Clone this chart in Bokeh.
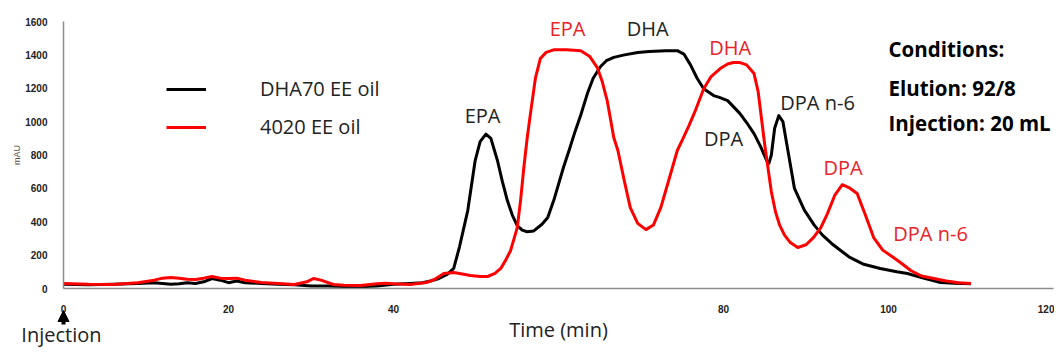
from bokeh.plotting import figure
from bokeh.models import Range1d, FixedTicker, Label, Legend, LegendItem, Arrow, NormalHead
from bokeh.embed import file_html
from bokeh.resources import INLINE

# ---- data ----
black_t = [0, 3, 6, 9, 11, 12, 13, 14, 15, 16, 17, 18, 19, 20, 21, 22, 24, 26, 28, 30, 32, 34, 36, 38, 40,
           42, 43.5, 44.5, 45.5, 46.5, 47.3, 48, 49, 49.9, 50.5, 51.2, 51.8, 52.6, 53.2, 53.8, 54.4, 55,
           55.6, 56.2, 57, 58, 58.7, 59.5, 60.6, 61.3, 62, 62.7, 63.5, 64.2, 65.1, 65.8, 66.7, 68, 69.6,
           71, 73, 74.4, 75.2, 76, 76.8, 77.6, 78.8, 79.5, 80.5, 81.2, 82, 83, 83.7, 84.5, 85.2, 85.5,
           85.8, 86.2, 86.7, 87.2, 87.9, 88.6, 89.8, 91, 92, 93.1, 94.2, 95.2, 97, 99, 101, 102.3, 104,
           106.3, 108, 110]
black_v = [25, 22, 25, 30, 35, 30, 25, 28, 35, 30, 40, 60, 50, 35, 45, 35, 30, 25, 22, 15, 15, 12, 10, 15, 25,
           30, 35, 45, 60, 85, 120, 250, 467, 767, 880, 925, 900, 767, 640, 527, 440, 377,
           350, 340, 345, 385, 425, 540, 725, 830, 940, 1040, 1168, 1260, 1330, 1365, 1385, 1400, 1414,
           1420, 1425, 1425, 1405, 1340, 1260, 1197, 1156, 1145, 1126, 1090, 1048, 980, 928, 850, 770, 750,
           800, 960, 1036, 1000, 800, 600, 470, 380, 320, 270, 228, 190, 145, 120, 100, 90, 65,
           36, 32, 28]

red_t = [0, 3, 6, 9, 11, 12, 13, 14, 15, 16, 17, 18, 19, 20, 21, 22, 24, 26, 28, 29.5, 30.3, 31.2, 32.7,
         34, 36, 38, 39, 40, 42, 44, 45, 46.1, 47.3, 48.5, 49.3, 50.5, 51.4, 52.3, 53, 53.6, 54.2, 55,
         55.4, 55.8, 56.2, 56.6, 57.2, 57.8, 58.5, 59.4, 61, 62.7, 63.8, 64.7, 65.3, 65.9, 66.7, 67.2,
         68, 68.7, 69.6, 70.6, 71.5, 72.4, 73.6, 74.4, 75.1, 75.8, 76.5, 77.6, 78.5, 79.6, 80.5, 81.2, 82,
         82.8, 83.7, 84.2, 84.6, 85, 85.4, 85.8, 86.3, 86.8, 87.4, 88.1, 89, 90, 90.9, 91.8, 92.6, 93.5,
         94.4, 95.2, 96.2, 97.2, 98.2, 99.3, 100.6, 101.6, 102.7, 104, 105.5, 107, 108.5, 110]
red_v = [30, 25, 24, 35, 50, 62, 66, 62, 55, 54, 62, 72, 62, 60, 62, 50, 36, 30, 24, 40, 60, 50, 24,
         20, 18, 28, 32, 28, 24, 36, 55, 90, 96, 85, 78, 72, 72, 90, 120, 170, 228, 365,
         527, 725, 900, 1048, 1260, 1378, 1415, 1430, 1430, 1425, 1390, 1324, 1240, 1126, 905, 827,
         640, 485, 390, 353, 380, 485, 689, 827, 900, 975, 1055, 1197, 1270, 1318, 1345, 1354, 1354,
         1340, 1288, 1180, 1020, 860, 720, 580, 460, 380, 320, 275, 246, 262, 305, 365, 449, 560,
         622, 605, 569, 440, 305, 230, 186, 150, 108, 75, 60, 45, 35, 30]

x_ticks = [0, 20, 40, 80, 100, 120]
y_ticks = [0, 200, 400, 600, 800, 1000, 1200, 1400, 1600]
series_names = ["DHA70 EE oil", "4020 EE oil"]

# peak labels: (text, colour, t, v)
peak_labels = [
    ("EPA", "#222222", 50.8, 1036),
    ("EPA", "#e8232a", 61.1, 1557),
    ("DHA", "#222222", 70.8, 1557),
    ("DHA", "#e8232a", 80.8, 1444),
    ("DPA", "#222222", 80.0, 898),
    ("DPA n-6", "#222222", 91.4, 1114),
    ("DPA", "#e8232a", 94.5, 725),
    ("DPA n-6", "#e8232a", 105.1, 329),
]
conditions = ["Conditions:", "Elution: 92/8", "Injection: 20 mL"]
cond_v = [1438, 1204, 989]

FONT = "Open Sans"
W, H = 1054, 348

# plot frame covers the whole figure; axes are pinned at 0
PX_T = 8.25        # px per minute
PX_V = 267 / 1600  # px per mAU
x_lo = -63 / PX_T
x_hi = x_lo + W / PX_T
y_hi = 1600 + 21 / PX_V
y_lo = y_hi - H / PX_V

p = figure(width=W, height=H, output_backend="svg", toolbar_location=None,
           x_range=Range1d(x_lo, x_hi), y_range=Range1d(y_lo, y_hi),
           min_border=0, min_border_left=0, min_border_right=0, min_border_top=0, min_border_bottom=0)
p.outline_line_color = None
p.grid.grid_line_color = None
p.background_fill_color = "white"
p.border_fill_color = "white"

r_black = p.line(black_t, black_v, line_color="black", line_width=3, line_join="round")
r_red = p.line(red_t, red_v, line_color="#ff0000", line_width=3, line_join="round")

for ax in (p.xaxis[0], p.yaxis[0]):
    ax.fixed_location = 0
    ax.axis_line_color = "#8c8c8c"
    ax.axis_line_width = 1.5
    ax.major_tick_line_color = None
    ax.minor_tick_line_color = None
    ax.major_label_text_font = "Liberation Sans"
    ax.major_label_text_font_style = "bold"
    ax.major_label_text_font_size = "10px"
    ax.major_label_text_color = "#222222"
    ax.major_label_standoff = 10

p.xaxis.bounds = (0, 120)
p.yaxis.bounds = (0, 1600)
p.xaxis.ticker = FixedTicker(ticks=x_ticks)
p.yaxis.ticker = FixedTicker(ticks=y_ticks)

p.xaxis.axis_label = "Time (min)"
p.xaxis.axis_label_text_font = FONT
p.xaxis.axis_label_text_font_style = "normal"
p.xaxis.axis_label_text_font_size = "20px"
p.xaxis.axis_label_text_color = "#222222"
p.xaxis.axis_label_standoff = 0

p.yaxis.axis_label = "mAU"
p.yaxis.axis_label_text_font = "Liberation Sans"
p.yaxis.axis_label_text_font_style = "normal"
p.yaxis.axis_label_text_font_size = "9px"
p.yaxis.axis_label_text_color = "#5a4a42"
p.yaxis.axis_label_standoff = 0

legend = Legend(items=[LegendItem(label=series_names[0], renderers=[r_black]),
                       LegendItem(label=series_names[1], renderers=[r_red])],
                location=(166, H - 140), orientation="vertical",
                glyph_width=40, glyph_height=20, label_height=20, spacing=11,
                label_standoff=54, padding=0, margin=0,
                label_text_font=FONT, label_text_font_size="20px", label_text_color="#222222",
                border_line_color=None, background_fill_alpha=0)
p.add_layout(legend)

for txt, col, t, v in peak_labels:
    p.add_layout(Label(x=t, y=v, text=txt, text_color=col, text_font=FONT, text_font_size="20px",
                       text_align="center", text_baseline="middle"))

for txt, v in zip(conditions, cond_v):
    p.add_layout(Label(x=100, y=v, text=txt, text_color="black", text_font=FONT,
                       text_font_style="bold", text_font_size="20.5px",
                       text_align="left", text_baseline="middle"))

p.add_layout(Label(x=-0.25, y=-276, text="Injection", text_color="#222222", text_font=FONT,
                   text_font_size="20px", text_align="center", text_baseline="middle"))
p.add_layout(Arrow(x_start=0, y_start=-216, x_end=0, y_end=-132, line_width=4, line_color="black",
                   end=NormalHead(size=11, fill_color="black", line_color="black", line_width=1)))

open("out.html", "w").write(file_html(p, INLINE))
